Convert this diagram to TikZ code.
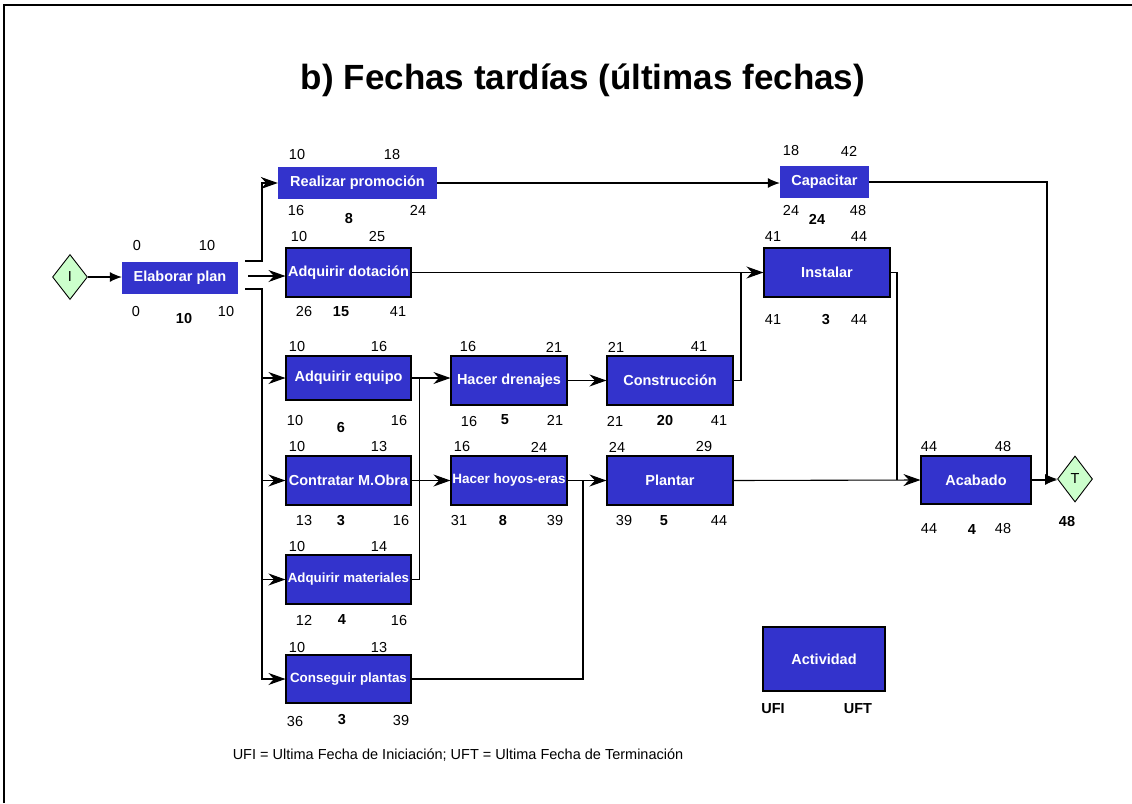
\documentclass[tikz,border=0pt]{standalone}
\usepackage{fontspec}
\setmainfont{Liberation Sans}
\usetikzlibrary{arrows.meta,shapes.geometric}
\definecolor{actblue}{RGB}{51,51,204}
\definecolor{dgreen}{RGB}{204,255,204}
\newcommand\nm[3]{\node[num] (#1) at (#2) {#3};}
\newcommand\bn[3]{\node[bnum] (#1) at (#2) {#3};}
\begin{document}
\begin{tikzpicture}[x=1pt,y=-1pt,
  act/.style={rectangle, fill=actblue, text=white, inner sep=0pt,
    font=\bfseries\fontsize{14.5}{16}\selectfont},
  actb/.style={act, draw=black, line width=1.1pt},
  num/.style={inner sep=0pt, font=\fontsize{14.5}{16}\selectfont},
  bnum/.style={inner sep=0pt, font=\bfseries\fontsize{14.5}{16}\selectfont},
  dia/.style={diamond, draw=black, line width=0.9pt, fill=dgreen, inner sep=0pt,
    minimum width=35pt, minimum height=45pt, font=\fontsize{14.5}{16}\selectfont},
  conn/.style={line width=1.1pt},
  arr/.style={conn, -{Stealth[length=17pt,width=12pt,inset=5.5pt]}},
  tri/.style={conn, -{Latex[length=12pt,width=10pt]}}]
\useasboundingbox (0,0) rectangle (1132,803);
\fill[white] (0,0) rectangle (1132,803);
\draw[line width=2pt] (4,803) -- (4,5) -- (1132,5);

\node[font=\bfseries\fontsize{35}{40}\selectfont] (title) at (583,80) {b) Fechas tardías (últimas fechas)};

% activities
\node[dia] (I) at (70,277) {I};
\node[act, minimum width=116pt, minimum height=32pt] (E) at (180,278) {Elaborar plan};
\node[act, minimum width=159pt, minimum height=32pt] (RP) at (357.5,183) {Realizar promoción};
\node[actb, minimum width=125pt, minimum height=49pt] (AD) at (348.5,272.5) {Adquirir dotación};
\node[actb, minimum width=125pt, minimum height=44pt] (AE) at (348.5,378) {Adquirir equipo};
\node[actb, minimum width=125pt, minimum height=49pt] (CM) at (348.5,480.5) {Contratar M.Obra};
\node[actb, minimum width=125pt, minimum height=49pt, font=\bfseries\fontsize{13.3}{15}\selectfont] (AM) at (348.5,579.5) {Adquirir materiales};
\node[actb, minimum width=125pt, minimum height=48pt, font=\bfseries\fontsize{13.4}{15}\selectfont] (CP) at (348.5,679) {Conseguir plantas};
\node[actb, minimum width=116pt, minimum height=49pt] (HD) at (509,380.5) {Hacer drenajes};
\node[actb, minimum width=116pt, minimum height=49pt, font=\bfseries\fontsize{13.5}{15}\selectfont] (HH) at (509,480.5) {Hacer hoyos-eras};
\node[actb, minimum width=126pt, minimum height=49pt] (CO) at (670,380.5) {Construcción};
\node[actb, minimum width=126pt, minimum height=49pt] (PL) at (670,480.5) {Plantar};
\node[act, minimum width=89pt, minimum height=32pt] (CA) at (824.5,182) {Capacitar};
\node[actb, minimum width=126pt, minimum height=49pt] (IN) at (827,272.5) {Instalar};
\node[actb, minimum width=110pt, minimum height=48pt] (AC) at (976,480) {Acabado};
\node[dia, minimum height=46pt] (T) at (1075,479) {T};
\node[actb, minimum width=122pt, minimum height=64pt] (ACT) at (824,659) {Actividad};

% connectors
\coordinate (e1) at (245,261);
\coordinate (eb1) at (262,261);
\coordinate (e2) at (248,276);
\coordinate (e3) at (245,289);
\coordinate (bus) at (262,289);
\coordinate (hj) at (583,480.5);
\coordinate (cj) at (741,272.5);
\coordinate (ij) at (897,480);
\coordinate (tj) at (1047,479);

\draw[tri] (I.east) -- (I.east -| E.west);
\draw[arr] (e1) -- (eb1) |- (RP.west);
\draw[arr] (e2) -- (e2 -| AD.west);
\draw[arr] (e3) -- (bus) |- (CP.west);
\draw[arr] (bus |- AE.west) -- (AE.west);
\draw[arr] (bus |- CM.west) -- (CM.west);
\draw[arr] (bus |- AM.west) -- (AM.west);
\draw[arr] (AE.east) -- (AE.east -| HD.west);
\draw[conn] (AM.east) -- ++(8,0) |- (AE.east);
\draw[arr] (CM.east) -- (HH.west);
\draw[arr] (HD.east) -- (CO.west);
\draw[arr] (HH.east) -- (PL.west);
\draw[conn] (CP.east) -| (hj);
\draw[conn] (CO.east) -| (cj);
\draw[arr] (AD.east) -- (IN.west);
\draw[tri] (RP.east) -- (RP.east -| CA.west);
\draw[tri] (CA.east) -| (tj) -- (T.west);
\draw[conn] (IN.east) -| (ij);
\draw[arr] (PL.east) -- (AC.west);
\draw[tri] (AC.east) -- (AC.east -| T.west);

% dates
\nm{E1}{137,246}{0} \nm{E2}{207,246}{10} \nm{E3}{136,312}{0} \bn{E4}{184,319}{10} \nm{E5}{226,312}{10}
\nm{RP1}{297,155}{10} \nm{RP2}{392,155}{18} \nm{RP3}{296,211}{16} \bn{RP4}{349,219}{8} \nm{RP5}{418,210}{24}
\nm{AD1}{299,237}{10} \nm{AD2}{377,237}{25} \nm{AD3}{304,312}{26} \bn{AD4}{341,312}{15} \nm{AD5}{398,312}{41}
\nm{AE1}{297,347}{10} \nm{AE2}{379,347}{16} \nm{AE3}{295,421}{10} \bn{AE4}{341,428}{6} \nm{AE5}{399,421}{16}
\nm{HD1}{468,347}{16} \nm{HD2}{554,347}{21} \nm{HD3}{469,422}{16} \bn{HD4}{505,420}{5} \nm{HD5}{555,420}{21}
\nm{CM1}{297,447}{10} \nm{CM2}{379,447}{13} \nm{CM3}{304,521}{13} \bn{CM4}{341,521}{3} \nm{CM5}{401,521}{16}
\nm{HH1}{462,447}{16} \nm{HH2}{539,447}{24} \nm{HH3}{459,521}{31} \bn{HH4}{503,521}{8} \nm{HH5}{555,521}{39}
\nm{AM1}{297,547}{10} \nm{AM2}{379,547}{14} \nm{AM3}{304,620}{12} \bn{AM4}{342,620}{4} \nm{AM5}{399,620}{16}
\nm{CP1}{297,647}{10} \nm{CP2}{379,647}{13} \nm{CP3}{295,721}{36} \bn{CP4}{342,720}{3} \nm{CP5}{401,720}{39}
\nm{CA1}{791,151}{18} \nm{CA2}{849,151}{42} \nm{CA3}{791,210}{24} \bn{CA4}{817,219}{24} \nm{CA5}{858,211}{48}
\nm{IN1}{773,237}{41} \nm{IN2}{859,237}{44} \nm{IN3}{773,320}{41} \bn{IN4}{826,320}{3} \nm{IN5}{859,320}{44}
\nm{CO1}{616,347}{21} \nm{CO2}{699,347}{41} \nm{CO3}{615,421}{21} \bn{CO4}{665,421}{20} \nm{CO5}{719,421}{41}
\nm{PL1}{617,447}{24} \nm{PL2}{704,447}{29} \nm{PL3}{624,521}{39} \bn{PL4}{664,521}{5} \nm{PL5}{719,521}{44}
\nm{AC1}{929,447}{44} \nm{AC2}{1003,447}{48} \nm{AC3}{929,529}{44} \bn{AC4}{972,530}{4} \nm{AC5}{1003,529}{48}
\bn{T1}{1067,522}{48}
\bn{UFI}{773,709}{UFI} \bn{UFT}{858,709}{UFT}

\node[num] (foot) at (458,755) {UFI = Ultima Fecha de Iniciación; UFT = Ultima Fecha de Terminación};
\end{tikzpicture}
\end{document}
